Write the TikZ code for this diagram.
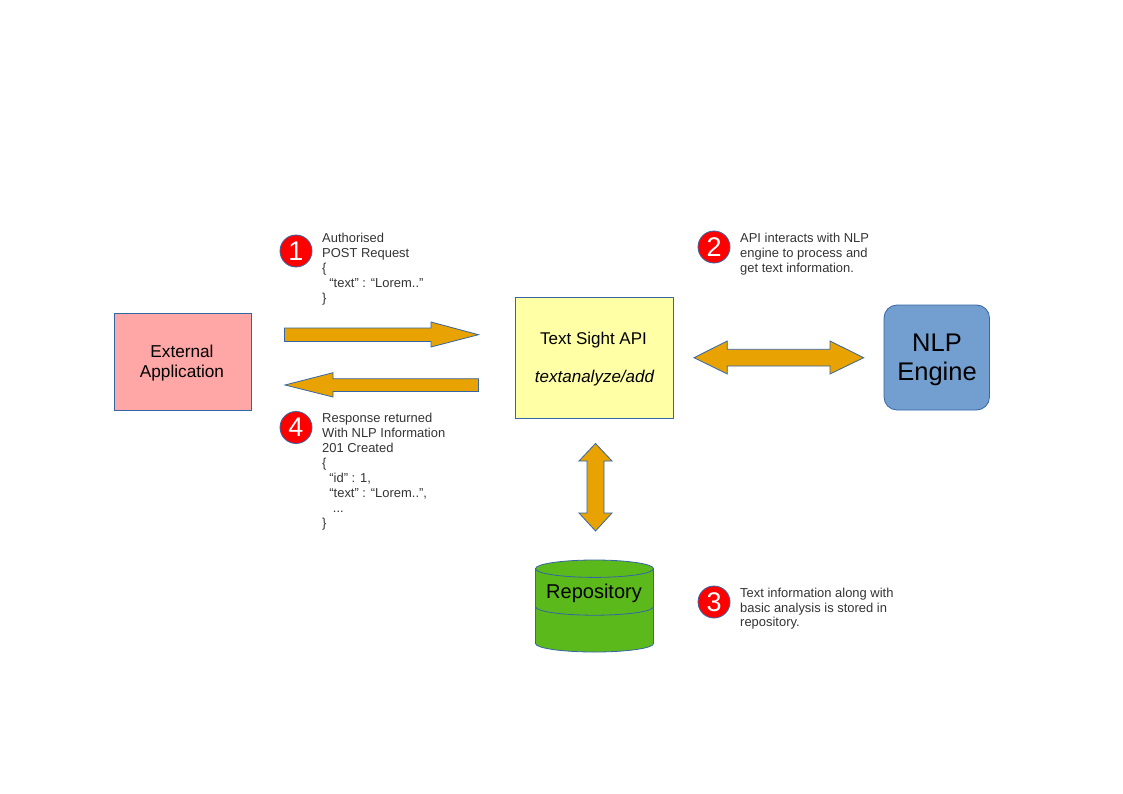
\documentclass[tikz,border=0pt]{standalone}
\usepackage{fontspec}
\setmainfont{Liberation Sans}
\usetikzlibrary{shapes.geometric}
\definecolor{edge}{HTML}{3465A4}
\definecolor{arrowfill}{HTML}{E8A202}
\definecolor{pinkfill}{HTML}{FFA6A6}
\definecolor{yellowfill}{HTML}{FFFFA6}
\definecolor{bluefill}{HTML}{729FCF}
\definecolor{greenfill}{HTML}{5CB91B}
\definecolor{notetext}{HTML}{333333}
\newcommand{\fs}[2]{\fontsize{#1}{#2}\selectfont}
\tikzset{
  blockarrow/.style={draw=edge,fill=arrowfill,line width=0.8pt,line join=miter},
  boxnode/.style={draw=edge,line width=0.8pt,minimum width=#1,inner sep=0pt,align=center,text=black},
  badge/.style={circle,draw=edge,fill=red,line width=0.8pt,minimum size=32pt,inner sep=0pt,text=white,font=\fs{27}{27}},
  note/.style={anchor=north west,inner sep=0pt,align=left,text=notetext,font=\fs{12.95}{14.95}},
}
\begin{document}
\begin{tikzpicture}[x=1pt,y=-1pt]
\useasboundingbox (0,0) rectangle (1123,794);
% Boxes
\node[boxnode=137pt,minimum height=97pt,fill=pinkfill] (ext) at (182.5,361.5) {};
\node[font=\fs{17.2}{20},align=center,text=black] (exttext) at (182,363) {External\\Application};
\node[boxnode=158pt,minimum height=121pt,fill=yellowfill] (api) at (594.5,357.5) {};
\node[font=\fs{17}{20}] (apititle) at (593.5,340) {Text Sight API};
\node[font=\fs{17}{20}\itshape] (apipath) at (594.5,378) {textanalyze/add};
\node[boxnode=105.5pt,minimum height=105pt,fill=bluefill,rounded corners=13pt] (nlp) at (936.75,357.5) {};
\node[font=\fs{25.5}{29.5},align=center,text=black] (nlptext) at (937,360) {NLP\\Engine};
% Cylinder
\path[fill=greenfill] (535.5,568.7) arc[x radius=59,y radius=8.7,start angle=180,end angle=360] -- (653.5,643.5) arc[x radius=59,y radius=8.5,start angle=0,end angle=180] -- cycle;
\draw[edge,line width=0.8pt] (535.5,568.7) arc[x radius=59,y radius=8.7,start angle=180,end angle=-180];
\draw[edge,line width=0.8pt] (535.5,568.7) -- (535.5,643.5) arc[x radius=59,y radius=8.5,start angle=180,end angle=0] -- (653.5,568.7);
\draw[edge,line width=0.8pt] (535.5,606.7) arc[x radius=59,y radius=8.5,start angle=180,end angle=0];
\node[font=\fs{20}{22},text=black] (repo) at (594,593) {Repository};
% Block arrows
\draw[blockarrow] (284.5,328) -- (431,328) -- (431,322) -- (478.5,334.7) -- (431,347) -- (431,341.5) -- (284.5,341.5) -- cycle;
\draw[blockarrow] (478.5,378.7) -- (333,378.7) -- (333,372.7) -- (285,385) -- (333,397) -- (333,391.5) -- (478.5,391.5) -- cycle;
\draw[blockarrow] (694,357.7) -- (727.3,341) -- (727.3,349.3) -- (830,349.3) -- (830,341) -- (863.7,357.7) -- (830,374) -- (830,366) -- (727.3,366) -- (727.3,374) -- cycle;
\draw[blockarrow] (595.5,443.5) -- (612,461) -- (604,461) -- (604,513) -- (612,513) -- (595.5,531) -- (579,513) -- (587,513) -- (587,461) -- (579,461) -- cycle;
% Badges
\node[badge] (b1) at (296,251) {1};
\node[badge] (b2) at (714,247) {2};
\node[badge] (b3) at (714,602) {3};
\node[badge] (b4) at (296,427.5) {4};
% Notes
\node[note] (n1) at (322,233) {Authorised\\POST Request\\\{\\\ \ “text” : “Lorem..”\\\}};
\node[note] (n4) at (322,413) {Response returned\\With NLP Information\\201 Created\\\{\\\ \ “id” : 1,\\\ \ “text” : “Lorem..”,\\\ \ \ ...\\\}};
\node[note] (n2) at (740,233) {API interacts with NLP\\engine to process and\\get text information.};
\node[note] (n3) at (740,587.5) {Text information along with\\basic analysis is stored in\\repository.};
\end{tikzpicture}
\end{document}
